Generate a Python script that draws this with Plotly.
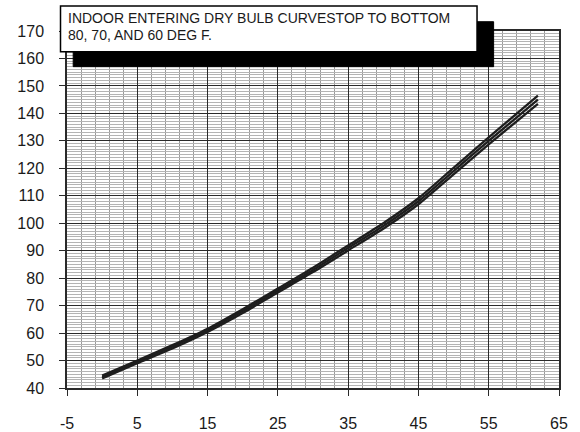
import plotly.graph_objects as go

# outdoor temperature (x) and readings for the three indoor dry bulb curves
outdoor_temp = [0, 5, 10, 15, 20, 25, 30, 35, 40, 45, 50, 55, 62]
db_80 = [44.5, 50.0, 55.6, 61.6, 68.7, 76.2, 83.8, 91.9, 100.0, 109.1, 120.2, 131.3, 146.5]
db_70 = [44.0, 49.5, 55.0, 61.0, 68.0, 75.5, 83.0, 91.0, 99.0, 108.0, 119.0, 130.0, 145.0]
db_60 = [43.5, 49.0, 54.4, 60.4, 67.3, 74.8, 82.2, 90.1, 98.0, 106.9, 117.8, 128.7, 143.5]

x_ticks = [-5, 5, 15, 25, 35, 45, 55, 65]
x_tick_labels = ["-5", "5", "15", "25", "35", "45", "55", "65"]

note_lines = ["INDOOR ENTERING DRY BULB CURVESTOP TO BOTTOM", "80, 70, AND 60 DEG F."]

fig = go.Figure()
for name, ys in [("80", db_80), ("70", db_70), ("60", db_60)]:
    fig.add_trace(go.Scatter(
        x=outdoor_temp, y=ys, name=name, mode="lines",
        line=dict(color="#1e1e1e", width=2.3, shape="spline", smoothing=0.6),
        showlegend=False,
    ))

font_family = "Liberation Sans, Arial, sans-serif"

fig.update_layout(
    width=580, height=432,
    margin=dict(l=66.5, r=21.3, t=31, b=43.7, autoexpand=False),
    paper_bgcolor="white",
    plot_bgcolor="white",
    font=dict(family=font_family, color="#1a1a1a"),
    xaxis=dict(
        range=[-5, 65], tickvals=x_ticks, ticktext=x_tick_labels,
        showgrid=True, gridcolor="#2a2a2a", gridwidth=1,
        minor=dict(tick0=-5, dtick=2, showgrid=True, gridcolor="#9a9a9a", gridwidth=1),
        ticks="outside", ticklen=6, tickcolor="#2a2a2a",
        tickfont=dict(size=16, color="#1a1a1a"),
        ticklabelstandoff=14,
        showline=True, linecolor="#2a2a2a", linewidth=1.5, mirror=True,
        zeroline=False, automargin=False,
    ),
    yaxis=dict(
        range=[40, 170], tick0=40, dtick=10,
        showgrid=True, gridcolor="#2a2a2a", gridwidth=1,
        minor=dict(tick0=40, dtick=1, showgrid=True, gridcolor="#b4b4b4", gridwidth=1),
        ticks="outside", ticklen=6, tickcolor="#2a2a2a",
        tickfont=dict(size=16, color="#1a1a1a"),
        ticklabelstandoff=12,
        showline=True, linecolor="#2a2a2a", linewidth=1.5, mirror=True,
        zeroline=False, automargin=False,
    ),
)

# note box with black drop shadow
fig.add_shape(type="rect", xref="paper", yref="paper",
              x0=0.0126, x1=0.8671, y0=0.9001, y1=1.0260,
              fillcolor="black", line=dict(color="black", width=1), layer="above")
fig.add_shape(type="rect", xref="paper", yref="paper",
              x0=-0.0132, x1=0.8334, y0=0.9421, y1=1.0700,
              fillcolor="white", line=dict(color="black", width=1.5), layer="above")

for line_text, ypos in zip(note_lines, [1.0364, 0.9874]):
    fig.add_annotation(
        xref="paper", yref="paper", x=-0.003, y=ypos,
        xanchor="left", yanchor="middle", align="left", showarrow=False,
        text=line_text,
        font=dict(size=14, family=font_family, color="#1a1a1a"),
    )

# page body has a default 8px margin; drop it so the figure sits at the window corner
fig.write_html("out.html", config={"displayModeBar": False},
               post_script="document.body.style.margin='0';")
